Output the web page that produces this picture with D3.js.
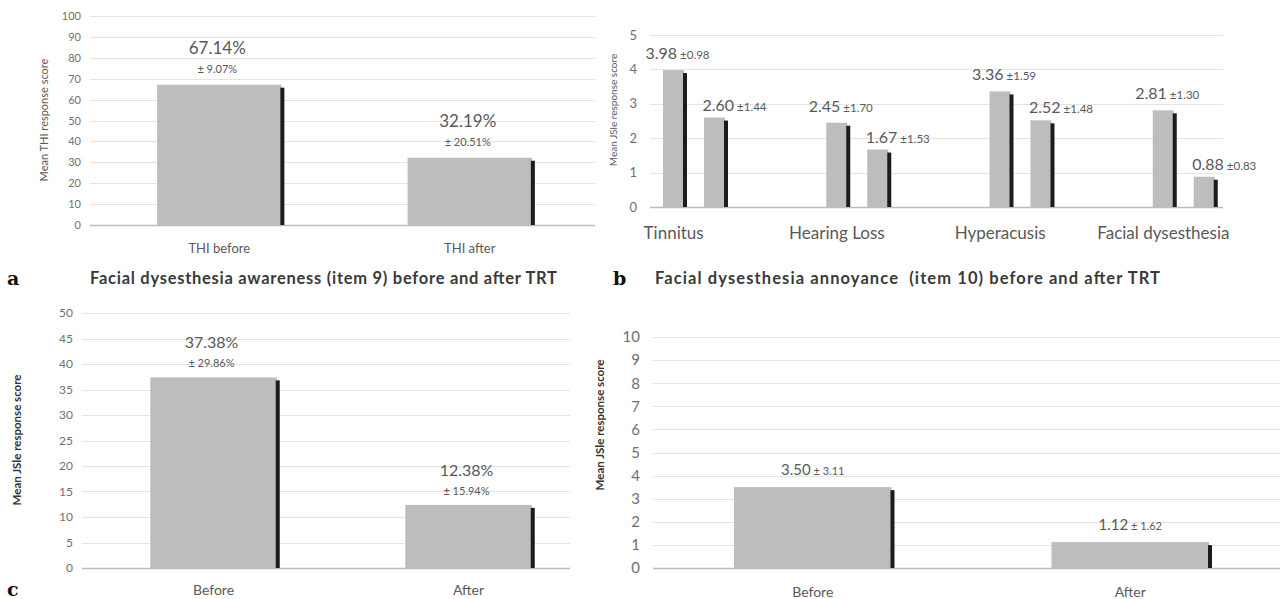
<!DOCTYPE html>
<meta charset="utf-8">
<style>
  body { margin: 0; background: #fff; }
  svg { display: block; }
</style>
<body>
<script src="https://cdn.jsdelivr.net/npm/d3@7"></script>
<script>
// ---- data ----
var thiCats = ["THI before", "THI after"],
    thiMeans = [67.14, 32.19],
    thiSD = [9.07, 20.51];

var jsCats = ["Tinnitus", "Hearing Loss", "Hyperacusis", "Facial dysesthesia"],
    jsSeries = ["before", "after"],
    jsBefore = [3.98, 2.45, 3.36, 2.81],
    jsBeforeSD = [0.98, 1.70, 1.59, 1.30],
    jsAfter = [2.60, 1.67, 2.52, 0.88],
    jsAfterSD = [1.44, 1.53, 1.48, 0.83];

var baCats = ["Before", "After"],
    awareMeans = [37.38, 12.38],
    awareSD = [29.86, 15.94],
    annoyMeans = [3.50, 1.12],
    annoySD = [3.11, 1.62];

var BAR = "#bdbdbf", SHADOW = "#1c1c1c", GRID = "#e4e4e4", BASE = "#bcbcbc", LABEL = "#595959";
var SANS = "Lato, 'Open Sans', sans-serif";

var svg = d3.select("body").append("svg")
    .attr("width", 1288).attr("height", 599)
    .style("font-family", SANS);

// grid + y axis for one panel
function frame(p) {
  var y = d3.scaleLinear().domain([0, p.max]).range([p.y0, p.y1]);
  var g = svg.append("g");
  var ticks = d3.range(0, p.max + p.step / 2, p.step);
  g.selectAll("line.grid").data(ticks.slice(1)).enter().append("line")
    .attr("x1", p.gx0).attr("x2", p.gx1)
    .attr("y1", function(d) { return Math.round(y(d)) + 0.5; })
    .attr("y2", function(d) { return Math.round(y(d)) + 0.5; })
    .attr("stroke", GRID);
  g.append("line")
    .attr("x1", p.gx0).attr("x2", p.gx1)
    .attr("y1", y(0) + 0.5).attr("y2", y(0) + 0.5)
    .attr("stroke", BASE).attr("stroke-width", 1.5);
  var ax = d3.axisLeft(y).tickValues(ticks).tickFormat(d3.format("d")).tickSize(0).tickPadding(0);
  var axg = g.append("g").attr("transform", "translate(" + p.tx + ",0)").call(ax);
  axg.select(".domain").remove();
  axg.attr("font-family", null).attr("font-size", null);
  axg.selectAll("text").style("font-size", p.tickFont + "px").attr("fill", "#707070")
    .style("font-family", SANS);
  g.append("text")
    .attr("transform", "translate(" + p.titleX + "," + p.titleY + ") rotate(-90)")
    .attr("text-anchor", "middle")
    .attr("font-size", p.titleFont)
    .attr("font-weight", p.titleBold ? "bold" : "normal")
    .attr("fill", p.titleBold ? "#333" : LABEL)
    .text(p.title);
  return {y: y, g: g};
}

function bar(g, x, w, top, bottom) {
  g.append("rect").attr("x", x).attr("y", top).attr("width", w).attr("height", bottom - top).attr("fill", BAR);
  g.append("rect").attr("x", x + w - 1).attr("y", top + 3).attr("width", 4).attr("height", bottom - top - 3).attr("fill", SHADOW);
}

// single-series panels (a, c, d)
function simplePanel(p) {
  var f = frame(p), y = f.y, g = f.g;
  var x = d3.scaleBand().domain(p.cats).range([p.bx0, p.bx1]);
  var bw = x.bandwidth() * 0.496;
  p.cats.forEach(function(c, i) {
    var cx = x(c) + x.bandwidth() / 2, top = y(p.means[i]);
    bar(g, cx - bw / 2, bw, top, y(0));
    if (p.twoLine) {
      g.append("text").attr("x", cx - 2).attr("y", top - p.bigOff)
        .attr("text-anchor", "middle").attr("font-size", p.bigFont).attr("fill", LABEL)
        .text(p.means[i].toFixed(2) + "%");
      g.append("text").attr("x", cx - 2).attr("y", top - p.smallOff)
        .attr("text-anchor", "middle").attr("font-size", 11).attr("fill", LABEL)
        .text("\u00b1 " + p.sd[i].toFixed(2) + "%");
    } else {
      var t = g.append("text").attr("x", cx).attr("y", top - p.bigOff)
        .attr("text-anchor", "middle").attr("fill", LABEL);
      t.append("tspan").attr("font-size", p.bigFont).text(p.means[i].toFixed(2));
      t.append("tspan").attr("font-size", 11).text(" \u00b1 " + p.sd[i].toFixed(2));
    }
    g.append("text").attr("x", cx).attr("y", p.catY)
      .attr("text-anchor", "middle").attr("font-size", p.catFont).attr("fill", LABEL)
      .text(c);
  });
}

// panel a
simplePanel({
  cats: thiCats, means: thiMeans, sd: thiSD, max: 100, step: 10,
  y0: 225, y1: 16, gx0: 90, gx1: 595, bx0: 94, bx1: 595, tx: 81, tickFont: 11,
  title: "Mean THI response score", titleX: 48, titleY: 120, titleFont: 11,
  twoLine: true, bigFont: 17, bigOff: 31, smallOff: 12, catY: 253, catFont: 13
});

// panel c
simplePanel({
  cats: baCats, means: awareMeans, sd: awareSD, max: 50, step: 5,
  y0: 568, y1: 313, gx0: 82, gx1: 570, bx0: 86, bx1: 596, tx: 73, tickFont: 12,
  title: "Mean JSle response score", titleX: 21, titleY: 440, titleFont: 11.5, titleBold: true,
  twoLine: true, bigFont: 16, bigOff: 29, smallOff: 10, catY: 595, catFont: 14
});

// panel d
simplePanel({
  cats: baCats, means: annoyMeans, sd: annoySD, max: 10, step: 1,
  y0: 568, y1: 337, gx0: 653, gx1: 1280, bx0: 654, bx1: 1289, tx: 640, tickFont: 15,
  title: "Mean JSle response score", titleX: 604, titleY: 425, titleFont: 11.5, titleBold: true,
  twoLine: false, bigFont: 15, bigOff: 12, catY: 597, catFont: 14
});

// panel b (grouped)
(function() {
  var p = {max: 5, step: 1, y0: 207, y1: 35, gx0: 650, gx1: 1223, tx: 637, tickFont: 13,
    title: "Mean JSle response score", titleX: 617, titleY: 110, titleFont: 10};
  var f = frame(p), y = f.y, g = f.g;
  var x0 = d3.scaleBand().domain(jsCats).range([592, 1245]);
  var x1 = d3.scaleBand().domain(jsSeries).range([71, 153]);
  var bw = 21;
  var vals = {before: jsBefore, after: jsAfter}, sds = {before: jsBeforeSD, after: jsAfterSD};
  var shift = {before: 4, after: 20}, off = {before: 11, after: 7};
  jsCats.forEach(function(c, i) {
    jsSeries.forEach(function(s) {
      var bx = x0(c) + x1(s), top = y(vals[s][i]);
      bar(g, bx, bw, top, y(0));
      var t = g.append("text").attr("x", bx + bw / 2 + shift[s]).attr("y", top - off[s])
        .attr("text-anchor", "middle").attr("fill", LABEL);
      t.append("tspan").attr("font-size", 16).text(vals[s][i].toFixed(2));
      t.append("tspan").attr("font-size", 11.5).text(" \u00b1" + sds[s][i].toFixed(2));
    });
    g.append("text").attr("x", x0(c) + x0.bandwidth() / 2).attr("y", 239)
      .attr("text-anchor", "middle").attr("font-size", 17).attr("fill", LABEL)
      .text(c);
  });
})();

// panel letters and titles
var letters = [["a", 7, 285], ["b", 613, 285], ["c", 7, 596]];
svg.selectAll("text.letter").data(letters).enter().append("text")
  .attr("class", "letter")
  .attr("x", function(d) { return d[1]; }).attr("y", function(d) { return d[2]; })
  .style("font-family", "'DejaVu Serif', 'Liberation Serif', serif").attr("font-weight", "bold")
  .attr("font-size", 19).attr("fill", "#111")
  .text(function(d) { return d[0]; });

var titles = [
  ["Facial dysesthesia awareness (item 9) before and after TRT", 90, 284, 467],
  ["Facial dysesthesia annoyance  (item 10) before and after TRT", 655, 284, 505]
];
svg.selectAll("text.ptitle").data(titles).enter().append("text")
  .attr("class", "ptitle")
  .attr("x", function(d) { return d[1]; }).attr("y", function(d) { return d[2]; })
  .attr("font-weight", "bold").attr("font-size", 16.5).attr("fill", "#3a3a3a")
  .attr("xml:space", "preserve")
  .attr("textLength", function(d) { return d[3]; })
  .attr("lengthAdjust", "spacing")
  .text(function(d) { return d[0]; });
</script>
</body>
